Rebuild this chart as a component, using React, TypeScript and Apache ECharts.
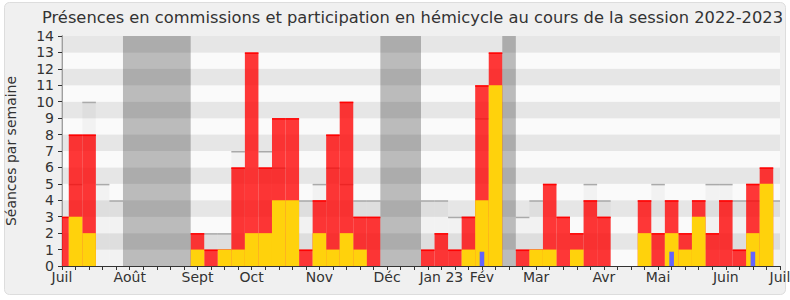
import React, { useEffect, useRef } from "react";
import * as echarts from "echarts";

const TITLE = "Présences en commissions et participation en hémicycle au cours de la session 2022-2023";
const Y_NAME = "Séances par semaine";

// one entry per week, week 0 = first week of July 2022, week 53 = first week of July 2023
const WEEK_RED = [3, 8, 8, 0, 0, 0, 0, 0, 0, 0, 2, 1, 1, 6, 13, 6, 9, 9, 1, 4, 8, 10, 3, 3, 0, 0, 0, 1, 2, 1, 3, 11, 13, 0, 1, 1, 5, 3, 2, 4, 3, 0, 0, 4, 2, 4, 2, 4, 2, 4, 1, 5, 6, 0];
const WEEK_YELLOW = [0, 3, 2, 0, 0, 0, 0, 0, 0, 0, 1, 0, 1, 1, 2, 2, 4, 4, 0, 2, 1, 2, 1, 0, 0, 0, 0, 0, 0, 0, 1, 4, 11, 0, 0, 1, 1, 0, 1, 0, 0, 0, 0, 2, 0, 2, 1, 3, 0, 0, 0, 2, 5, 0];
const WEEK_TOTAL = [0, 5, 10, 5, 4, 0, 0, 0, 0, 0, 0, 2, 2, 7, 0, 7, 6, 0, 4, 5, 6, 5, 4, 4, 0, 0, 0, 4, 4, 3, 3, 9, 0, 0, 3, 4, 0, 0, 0, 5, 4, 0, 0, 0, 5, 0, 0, 0, 5, 5, 4, 4, 0, 4];
const BLUE_WEEKS = [31, 45, 51];
const BLUE_VALUES = [0.87, 0.87, 0.87];
const VACATION_START = [5, 24, 33];
const VACATION_END = [9, 26, 33];
const MONTH_WEEKS = [0, 5, 10, 14, 19, 24, 28, 31, 35, 40, 44, 49, 53];
const MONTH_NAMES = ["Juil", "Août", "Sept", "Oct", "Nov", "Déc", "Jan 23", "Fév", "Mar", "Avr", "Mai", "Juin", "Juil"];
const Y_MAX = 14;
const X_MAX = 53;

const FONT = "DejaVu Sans";

function clip(rect: any, params: any) {
  const cs = params.coordSys;
  return echarts.graphic.clipRectByRect(rect, { x: cs.x, y: cs.y, width: cs.width, height: cs.height });
}

function barRenderer(half: number, fill: string, topStroke?: string) {
  return (params: any, api: any) => {
    const k = api.value(0);
    const v = api.value(1);
    if (!v) return null;
    const tl = api.coord([k - half, v]);
    const br = api.coord([k + half, 0]);
    const rect = clip({ x: tl[0], y: tl[1], width: br[0] - tl[0], height: br[1] - tl[1] }, params);
    if (!rect) return null;
    const children: any[] = [{ type: "rect", shape: rect, style: { fill } }];
    if (topStroke) {
      children.push({
        type: "line",
        shape: { x1: rect.x, y1: rect.y + 0.75, x2: rect.x + rect.width, y2: rect.y + 0.75 },
        style: { stroke: topStroke, lineWidth: 1.5 },
      });
    }
    return { type: "group", children };
  };
}

export default function App() {
  const ref = useRef<HTMLDivElement>(null);
  useEffect(() => {
    document.body.style.margin = "0";
    const chart = echarts.init(ref.current!, null, { renderer: "svg" });
    const xCommon = {
      type: "value",
      min: 0,
      max: X_MAX,
      interval: 1,
      splitLine: { show: false },
    };
    chart.setOption({
      animation: false,
      backgroundColor: "#ffffff",
      textStyle: { fontFamily: FONT },
      title: {
        text: TITLE,
        left: 42,
        top: 9,
        padding: 0,
        textStyle: { fontFamily: FONT, fontSize: 16.3, fontWeight: "normal", color: "#333333" },
      },
      graphic: [
        {
          type: "rect",
          z: -100,
          silent: true,
          shape: { x: 4.5, y: 2.5, width: 781, height: 292, r: 5 },
          style: { fill: "#f0f0f0", stroke: "#dddddd", lineWidth: 1 },
        },
      ],
      grid: { left: 62, right: 10, top: 36, bottom: 34, outerBoundsMode: "none", containLabel: false },
      xAxis: [
        {
          ...xCommon,
          position: "bottom",
          axisLine: { show: true, lineStyle: { color: "#333333", width: 1 } },
          axisTick: { show: true, length: 4, lineStyle: { color: "#333333" } },
          axisLabel: {
            show: true,
            fontFamily: FONT,
            fontSize: 14,
            color: "#333333",
            margin: 4,
            showMinLabel: true,
            showMaxLabel: true,
            formatter: (v: number) => {
              const i = MONTH_WEEKS.indexOf(Math.round(v));
              return i >= 0 ? MONTH_NAMES[i] : "";
            },
          },
        },
        {
          ...xCommon,
          position: "top",
          axisLine: { show: false },
          axisTick: { show: true, inside: true, length: 2, lineStyle: { color: "#333333" } },
          axisLabel: { show: false },
        },
      ],
      yAxis: [
        {
          type: "value",
          min: 0,
          max: Y_MAX,
          interval: 1,
          name: Y_NAME,
          nameLocation: "middle",
          nameGap: 44,
          nameTextStyle: { fontFamily: FONT, fontSize: 14, color: "#333333" },
          axisLine: { show: true, lineStyle: { color: "#333333", width: 1 } },
          axisTick: { show: true, length: 4, lineStyle: { color: "#333333" } },
          axisLabel: { fontFamily: FONT, fontSize: 14, color: "#333333", margin: 8 },
          splitLine: { show: false },
          splitArea: { show: true, areaStyle: { color: ["#fafafa", "#e6e6e6"] } },
        },
        {
          type: "value",
          min: 0,
          max: Y_MAX,
          interval: 1,
          position: "right",
          axisLine: { show: true, lineStyle: { color: "#c4c4c4", width: 1.5 } },
          axisTick: { show: false },
          axisLabel: { show: false },
          splitLine: { show: false },
        },
      ],
      series: [
        {
          type: "custom",
          name: "total",
          z: 1,
          renderItem: barRenderer(0.5, "rgba(0,0,0,0.03)", "#aaaaaa"),
          data: WEEK_TOTAL.map((v, k) => [k, v]),
        },
        {
          type: "custom",
          name: "rouge",
          z: 2,
          renderItem: barRenderer(0.5, "rgba(255,0,0,0.78)", "rgba(255,0,0,0.95)"),
          data: WEEK_RED.map((v, k) => [k, v]),
        },
        {
          type: "custom",
          name: "jaune",
          z: 3,
          renderItem: barRenderer(0.5, "#ffd20c"),
          data: WEEK_YELLOW.map((v, k) => [k, v]),
        },
        {
          type: "custom",
          name: "bleu",
          z: 4,
          renderItem: barRenderer(0.17, "#6464ff"),
          data: BLUE_WEEKS.map((k, i) => [k, BLUE_VALUES[i]]),
        },
        {
          type: "custom",
          name: "vacances",
          z: 5,
          renderItem: (params: any, api: any) => {
            const s = api.value(0);
            const e = api.value(1);
            const tl = api.coord([s - 0.5, Y_MAX]);
            const br = api.coord([e + 0.5, 0]);
            const rect = clip({ x: tl[0], y: tl[1], width: br[0] - tl[0], height: br[1] - tl[1] }, params);
            if (!rect) return null;
            return { type: "rect", shape: rect, style: { fill: "rgba(0,0,0,0.25)" } };
          },
          encode: { x: [0, 1] },
          data: VACATION_START.map((s, i) => [s, VACATION_END[i]]),
        },
      ],
    });
    return () => chart.dispose();
  }, []);
  return <div ref={ref} style={{ width: 790, height: 300 }} />;
}
